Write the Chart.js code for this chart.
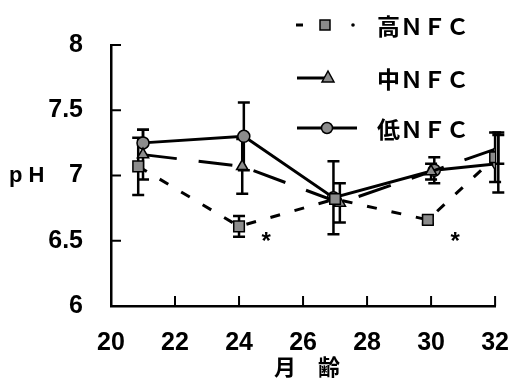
<!DOCTYPE html>
<html>
<head>
<meta charset="utf-8">
<script src="https://cdn.jsdelivr.net/npm/chart.js@4/dist/chart.umd.min.js"></script>
<style>
  html, body { margin: 0; padding: 0; background: #fff; }
</style>
</head>
<body>
<canvas id="phChart" width="523" height="381"></canvas>
<script>
// 月齢 (x) / pH (y), mean and SD
const seriesNames = ['高ＮＦＣ', '中ＮＦＣ', '低ＮＦＣ'];

const highAge = [20.85, 24.0, 27.0, 29.9, 32.0];
const highPH  = [7.07, 6.61, 6.82, 6.66, 7.14];
const highSD  = [0.22, 0.08, 0.0, 0.03, 0.19];

const midAge = [21.0, 24.1, 27.15, 30.0, 32.1];
const midPH  = [7.16, 7.07, 6.79, 7.03, 7.21];
const midSD  = [0.19, 0.21, 0.15, 0.06, 0.12];

const lowAge = [21.0, 24.15, 26.95, 30.1, 32.1];
const lowPH  = [7.25, 7.30, 6.83, 7.04, 7.09];
const lowSD  = [0.10, 0.26, 0.28, 0.10, 0.22];

// significance marks (*)
const sigAge = [24.85, 30.75];
const sigPH  = [6.52, 6.52];

const xTicks = [20, 22, 24, 26, 28, 30, 32];
const yTicks = [6, 6.5, 7, 7.5, 8];

const markFill = '#8c8c8c';
const tickFont = { family: 'Liberation Sans', size: 25, weight: 'bold' };
const cjkFont = "'Noto Sans CJK JP'";

function pts(xs, ys) {
  return xs.map((x, i) => ({ x: x, y: ys[i] }));
}

const sdList = [highSD, midSD, lowSD];

// error bars from the data through the scales
const errorBars = {
  id: 'errorBars',
  beforeDatasetsDraw(chart) {
    const { ctx, scales: { x, y } } = chart;
    ctx.save();
    ctx.strokeStyle = '#000';
    ctx.lineWidth = 2.5;
    chart.data.datasets.forEach((ds, di) => {
      ds.data.forEach((p, i) => {
        const sd = sdList[di][i];
        if (!sd) return;
        const px = x.getPixelForValue(p.x);
        const top = y.getPixelForValue(p.y + sd);
        const bot = y.getPixelForValue(p.y - sd);
        ctx.beginPath();
        ctx.moveTo(px, top); ctx.lineTo(px, bot);
        ctx.moveTo(px - 6, top); ctx.lineTo(px + 6, top);
        ctx.moveTo(px - 6, bot); ctx.lineTo(px + 6, bot);
        ctx.stroke();
      });
    });
    ctx.restore();
  }
};

// inward tick marks, axis titles, stars and legend
const decorations = {
  id: 'decorations',
  afterDraw(chart) {
    const { ctx, scales: { x, y }, chartArea } = chart;
    ctx.save();
    ctx.strokeStyle = '#000';
    ctx.lineWidth = 2;
    xTicks.slice(1).forEach(v => {
      const px = x.getPixelForValue(v);
      ctx.beginPath();
      ctx.moveTo(px, chartArea.bottom);
      ctx.lineTo(px, chartArea.bottom - 10);
      ctx.stroke();
    });
    yTicks.slice(1).forEach(v => {
      const py = y.getPixelForValue(v);
      ctx.beginPath();
      ctx.moveTo(chartArea.left, py);
      ctx.lineTo(chartArea.left + 10, py);
      ctx.stroke();
    });

    // axis titles
    ctx.fillStyle = '#000';
    ctx.textBaseline = 'middle';
    ctx.textAlign = 'left';
    ctx.font = 'bold 22px "Liberation Sans"';
    ctx.fillText('p H', 9, y.getPixelForValue(7));
    ctx.textAlign = 'center';
    ctx.font = 'bold 22px ' + cjkFont;
    ctx.fillText('月　齢', 307, 367);

    // stars
    ctx.font = 'bold 24px "Liberation Sans"';
    sigAge.forEach((a, i) => {
      ctx.fillText('*', x.getPixelForValue(a), y.getPixelForValue(sigPH[i]) + 4);
    });

    // legend
    const rows = [25, 78, 128];
    ctx.textAlign = 'left';
    ctx.font = 'bold 23px ' + cjkFont;
    seriesNames.forEach((name, i) => {
      ctx.fillText(name, 377, rows[i] + 1);
    });
    ctx.lineWidth = 3;
    // 高
    ctx.beginPath();
    ctx.moveTo(296, rows[0]); ctx.lineTo(303, rows[0]);
    ctx.stroke();
    ctx.fillStyle = markFill;
    ctx.lineWidth = 1.5;
    ctx.fillRect(320, rows[0] - 5, 10, 10);
    ctx.strokeRect(320, rows[0] - 5, 10, 10);
    ctx.fillStyle = '#000';
    ctx.beginPath();
    ctx.arc(353, rows[0], 1.8, 0, Math.PI * 2);
    ctx.fill();
    // 中
    ctx.lineWidth = 3;
    ctx.beginPath();
    ctx.moveTo(297, rows[1]); ctx.lineTo(325, rows[1]);
    ctx.stroke();
    ctx.fillStyle = markFill;
    ctx.lineWidth = 1.5;
    ctx.beginPath();
    ctx.moveTo(328, rows[1] - 7); ctx.lineTo(334, rows[1] + 4); ctx.lineTo(322, rows[1] + 4);
    ctx.closePath();
    ctx.fill(); ctx.stroke();
    // 低
    ctx.lineWidth = 3;
    ctx.beginPath();
    ctx.moveTo(297, rows[2]); ctx.lineTo(357, rows[2]);
    ctx.stroke();
    ctx.lineWidth = 1.5;
    ctx.beginPath();
    ctx.arc(327, rows[2], 5.5, 0, Math.PI * 2);
    ctx.fill(); ctx.stroke();
    ctx.restore();
  }
};

new Chart(document.getElementById('phChart'), {
  type: 'scatter',
  data: {
    datasets: [
      {
        label: seriesNames[0],
        data: pts(highAge, highPH),
        showLine: true,
        borderColor: '#000',
        borderWidth: 3,
        borderDash: [10, 15],
        pointStyle: 'rect',
        pointRadius: 7.5,
        pointBackgroundColor: markFill,
        pointBorderColor: '#000',
        pointBorderWidth: 1.5
      },
      {
        label: seriesNames[1],
        data: pts(midAge, midPH),
        showLine: true,
        borderColor: '#000',
        borderWidth: 3,
        borderDash: [34, 22],
        pointStyle: 'triangle',
        pointRadius: 6.5,
        pointBackgroundColor: markFill,
        pointBorderColor: '#000',
        pointBorderWidth: 1.5
      },
      {
        label: seriesNames[2],
        data: pts(lowAge, lowPH),
        showLine: true,
        borderColor: '#000',
        borderWidth: 3,
        pointStyle: 'circle',
        pointRadius: 6,
        pointBackgroundColor: markFill,
        pointBorderColor: '#000',
        pointBorderWidth: 1.5
      }
    ]
  },
  options: {
    responsive: false,
    animation: false,
    devicePixelRatio: 1,
    layout: { padding: { top: 45, right: 18, left: 0, bottom: 0 } },
    plugins: {
      legend: { display: false },
      tooltip: { enabled: false }
    },
    scales: {
      x: {
        type: 'linear',
        min: 20,
        max: 32,
        afterFit: s => { s.height = 75; },
        afterBuildTicks: s => { s.ticks = xTicks.map(v => ({ value: v })); },
        grid: { display: false },
        border: { display: true, color: '#000', width: 2.5 },
        ticks: { color: '#000', font: tickFont, padding: 14, maxRotation: 0 }
      },
      y: {
        type: 'linear',
        min: 6,
        max: 8,
        afterFit: s => { s.width = 111; },
        afterBuildTicks: s => { s.ticks = yTicks.map(v => ({ value: v })); },
        grid: { display: false },
        border: { display: true, color: '#000', width: 2.5 },
        ticks: { color: '#000', font: tickFont, padding: 20, callback: v => String(v) }
      }
    }
  },
  plugins: [errorBars, decorations]
});
</script>
</body>
</html>
